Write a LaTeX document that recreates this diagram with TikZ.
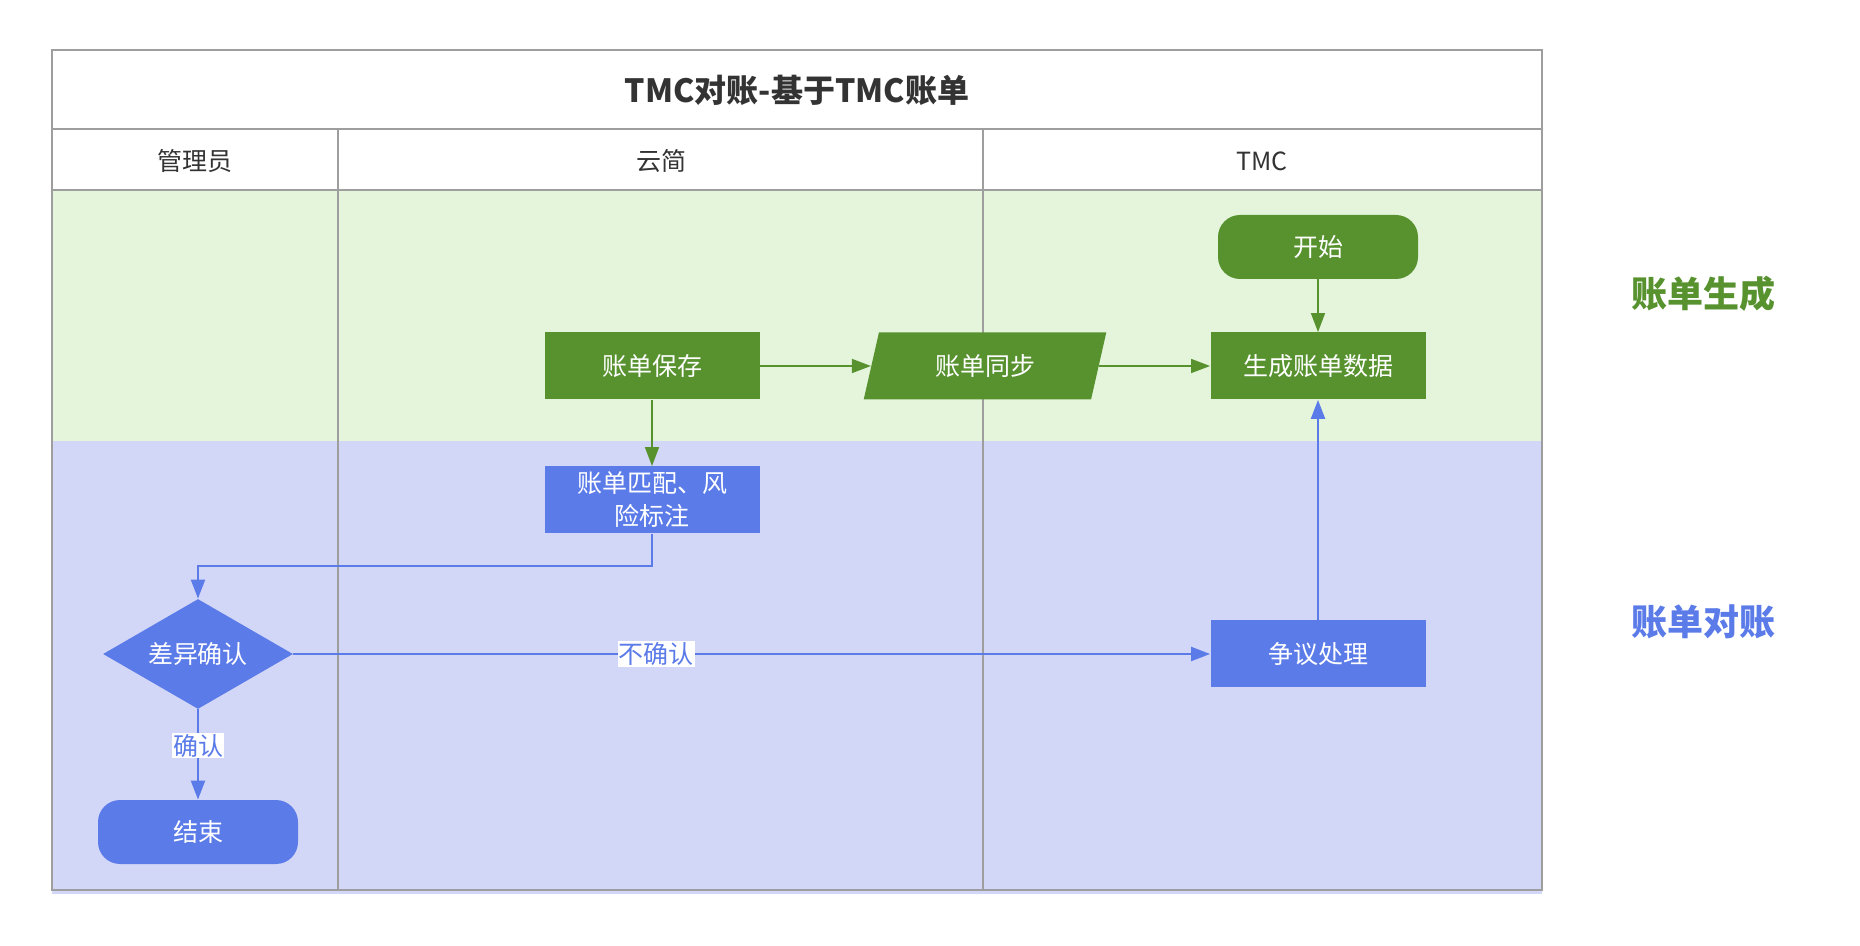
\documentclass[tikz,border=0pt]{standalone}
\usepackage{fontspec}
\usepackage{xcolor}
\usepackage{tikz}
\usetikzlibrary{positioning, arrows.meta, shapes.geometric}
\setmainfont{Noto Sans CJK SC}
\definecolor{flowgreen}{HTML}{57922F}
\definecolor{lanegreen}{HTML}{E4F5DC}
\definecolor{flowblue}{HTML}{5B7BE9}
\definecolor{laneblue}{HTML}{D3D7F7}
\definecolor{framegray}{HTML}{9E9E9E}
\definecolor{darktext}{HTML}{333333}

\begin{document}
\begin{tikzpicture}[x=0.5pt, y=-0.5pt,
    textfont/.style={font=\fontsize{12.5pt}{16.5pt}\selectfont},
    stepbox/.style={textfont, text=white, inner sep=2pt, align=center,
          minimum width=107.5pt, minimum height=33.5pt},
    greenbox/.style={stepbox, fill=flowgreen},
    bluebox/.style={stepbox, fill=flowblue},
    pill/.style={stepbox, rounded corners=11pt, minimum width=100pt, minimum height=32pt},
    greenline/.style={draw=flowgreen, line width=0.8pt, -{Triangle[length=9.5pt, width=7pt]}},
    blueline/.style={draw=flowblue, line width=1.1pt, -{Triangle[length=9.5pt, width=7pt]}},
    edgelabel/.style={textfont, fill=white, text=flowblue, inner sep=0.5pt},
    lanelabel/.style={font=\fontsize{18pt}{21pt}\selectfont\bfseries}]
    \useasboundingbox (0,0) rectangle (1860,946);

    % swimlanes
    \fill[lanegreen] (52,190) rectangle (1542,441);
    \fill[laneblue] (52,441) rectangle (1542,894);
    \draw[framegray, line width=1pt] (52,50) rectangle (1542,890);
    \draw[framegray, line width=1pt] (52,129) -- (1542,129) (52,190) -- (1542,190);
    \draw[framegray, line width=1pt] (338,129) -- (338,890) (983,129) -- (983,890);

    \node[text=darktext, font=\fontsize{16pt}{19pt}\selectfont\bfseries] (title) at (797,90) {TMC对账-基于TMC账单};
    \node[textfont, text=darktext] (hadmin) at (195,161) {管理员};
    \node[textfont, text=darktext] (hyun) at (661,161) {云简};
    \node[textfont, text=darktext] (htmc) at (1262,161) {TMC};

    \node[text=flowgreen, lanelabel] (lgen) at (1703,294) {账单生成};
    \node[text=flowblue, lanelabel] (lrec) at (1703,622) {账单对账};

    % steps
    \node[pill, fill=flowgreen] (start) at (1318,247) {开始};
    \node[greenbox] (gen) at (1318,366) {生成账单数据};
    \node[greenbox] (save) at (652,366) {账单保存};
    \node[greenbox, trapezium, trapezium left angle=76, trapezium right angle=104,
          trapezium stretches=true, minimum width=122pt] (sync) at (985,366) {账单同步};
    \node[bluebox] (match) at (652,500) {账单匹配、风\\险标注};
    \node[bluebox, diamond, aspect=1.7, inner sep=0pt, minimum width=95pt, minimum height=55pt] (diff) at (198,654) {差异确认};
    \node[pill, fill=flowblue] (finish) at (198,832) {结束};
    \node[bluebox] (dispute) at (1318,654) {争议处理};

    \coordinate (bend) at (652,566);

    \draw[greenline] (start) -- (gen);
    \draw[greenline] (save) -- (sync);
    \draw[greenline] (sync) -- (gen);
    \draw[greenline] (save) -- (match);
    \draw[blueline] (match.south) -- (bend) -| (diff.north);
    \draw[blueline] (diff) -- node[edgelabel, pos=0.4]{确认} (finish);
    \draw[blueline] (diff) -- node[edgelabel, pos=0.396]{不确认} (dispute);
    \draw[blueline] (dispute) -- (gen);
\end{tikzpicture}
\end{document}
